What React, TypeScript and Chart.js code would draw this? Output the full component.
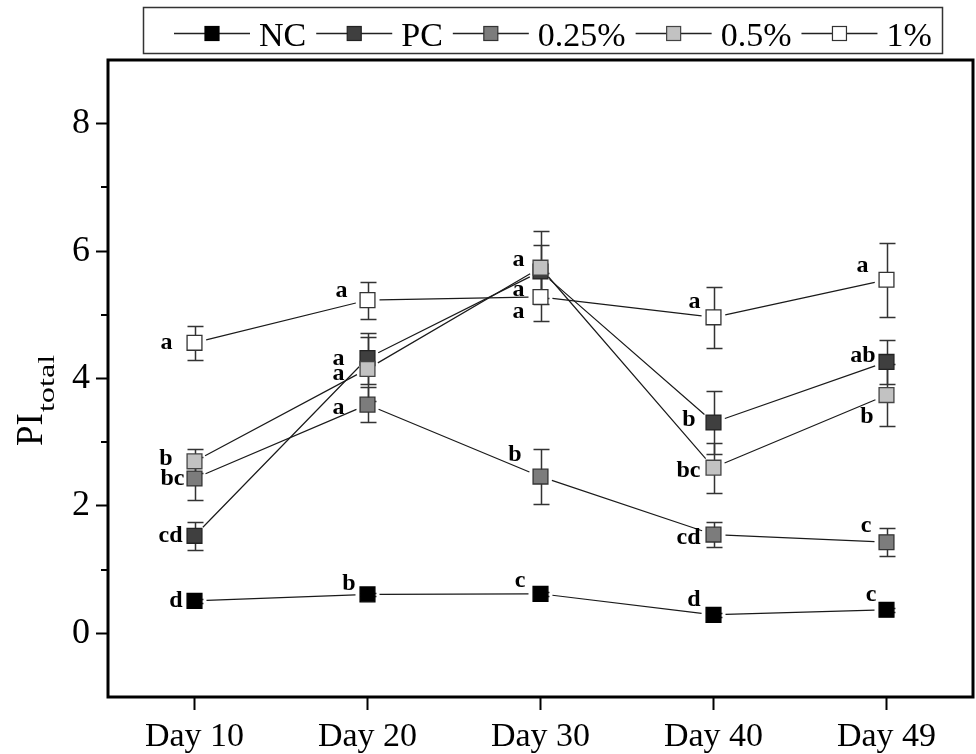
import React, { useEffect, useRef } from 'react';
import { Chart, registerables } from 'chart.js';

Chart.register(...registerables);

const FONT = '"Liberation Serif", "Times New Roman", serif';

// ---- data ----
const days = ['Day 10', 'Day 20', 'Day 30', 'Day 40', 'Day 49'];
const seriesNames = ['NC', 'PC', '0.25%', '0.5%', '1%'];
const yTicks = [0, 2, 4, 6, 8];
const yMinorTicks = [1, 3, 5, 7];

const ncValues = [0.51, 0.61, 0.62, 0.29, 0.37];
const ncErrors = [0.03, 0.03, 0.03, 0.03, 0.03];
const ncLetters = ['d', 'b', 'c', 'd', 'c'];

const pcValues = [1.53, 4.32, 5.68, 3.31, 4.26];
const pcErrors = [0.22, 0.4, 0.42, 0.49, 0.35];
const pcLetters = ['cd', 'a', 'a', 'b', 'ab'];

const p025Values = [2.43, 3.59, 2.46, 1.55, 1.43];
const p025Errors = [0.33, 0.27, 0.43, 0.2, 0.22];
const p025Letters = ['bc', 'a', 'b', 'cd', 'c'];

const p05Values = [2.7, 4.15, 5.74, 2.6, 3.74];
const p05Errors = [0.19, 0.5, 0.57, 0.39, 0.49];
const p05Letters = ['b', 'a', 'a', 'bc', 'b'];

const p1Values = [4.56, 5.23, 5.28, 4.96, 5.55];
const p1Errors = [0.27, 0.29, 0.38, 0.48, 0.58];
const p1Letters = ['a', 'a', 'a', 'a', 'a'];

// ---- styles / layout ----
const fillColors = ['#000000', '#3f3f3f', '#7c7c7c', '#c2c2c2', '#ffffff'];
const edgeColors = ['#000000', '#222222', '#333333', '#444444', '#333333'];
// label offsets [dx to right edge, dy to centre] relative to marker
const labelOffsets = [
  [[-12, 0], [-12, -11], [-15, -13], [-13, -15], [-10, -15]],
  [[-12, 0], [-23, 1], [-16, 18], [-18, -3], [-11, -6]],
  [[-10, 0], [-23, 3], [-19, -22], [-13, 3], [-15, -16]],
  [[-22, -3], [-23, 5], [-16, -8], [-13, 3], [-13, 22]],
  [[-22, 0], [-20, -9], [-16, 15], [-13, -16], [-18, -14]],
];
const LINE_GAP = 12;

const valuesList = [ncValues, pcValues, p025Values, p05Values, p1Values];
const errorsList = [ncErrors, pcErrors, p025Errors, p05Errors, p1Errors];
const lettersList = [ncLetters, pcLetters, p025Letters, p05Letters, p1Letters];

const errorBarPlugin = {
  id: 'errorBars',
  beforeDatasetsDraw(chart: any) {
    const ctx = chart.ctx;
    const ys = chart.scales.y;
    ctx.save();
    ctx.strokeStyle = '#333';
    ctx.lineWidth = 1.5;
    chart.data.datasets.forEach((ds: any, i: number) => {
      const meta = chart.getDatasetMeta(i);
      meta.data.forEach((pt: any, j: number) => {
        const v = ds.data[j];
        const e = ds.errors[j];
        if (!e) return;
        const yt = Math.round(ys.getPixelForValue(v + e)) + 0.5;
        const yb = Math.round(ys.getPixelForValue(v - e)) + 0.5;
        const x = Math.round(pt.x) + 0.5;
        ctx.beginPath();
        ctx.moveTo(x, yt);
        ctx.lineTo(x, yb);
        ctx.moveTo(x - 8, yt);
        ctx.lineTo(x + 8, yt);
        ctx.moveTo(x - 8, yb);
        ctx.lineTo(x + 8, yb);
        ctx.stroke();
      });
    });
    ctx.restore();
  },
  // connecting line of each series, stopped short of the markers (Origin style)
  beforeDatasetDraw(chart: any, args: any) {
    const ctx = chart.ctx;
    const pts = args.meta.data;
    ctx.save();
    ctx.strokeStyle = '#1a1a1a';
    ctx.lineWidth = 1.2;
    ctx.beginPath();
    for (let k = 0; k < pts.length - 1; k++) {
      const p = pts[k], q = pts[k + 1];
      const dx = q.x - p.x, dy = q.y - p.y;
      const len = Math.hypot(dx, dy);
      if (len <= 2 * LINE_GAP) continue;
      const ux = dx / len, uy = dy / len;
      ctx.moveTo(p.x + ux * LINE_GAP, p.y + uy * LINE_GAP);
      ctx.lineTo(q.x - ux * LINE_GAP, q.y - uy * LINE_GAP);
    }
    ctx.stroke();
    ctx.restore();
  },
};

const decorPlugin = {
  id: 'decor',
  afterDatasetsDraw(chart: any) {
    const ctx = chart.ctx;
    ctx.save();
    ctx.font = `bold 24px ${FONT}`;
    ctx.fillStyle = '#000';
    ctx.textAlign = 'right';
    ctx.textBaseline = 'middle';
    chart.data.datasets.forEach((ds: any, i: number) => {
      const meta = chart.getDatasetMeta(i);
      meta.data.forEach((pt: any, j: number) => {
        const off = labelOffsets[i][j];
        ctx.fillText(ds.letters[j], pt.x + off[0], pt.y + off[1]);
      });
    });
    ctx.restore();
  },
  afterDraw(chart: any) {
    const ctx = chart.ctx;
    const a = chart.chartArea;
    const ys = chart.scales.y;
    ctx.save();
    // frame
    ctx.strokeStyle = '#000';
    ctx.lineWidth = 3;
    ctx.strokeRect(a.left, a.top, a.right - a.left, a.bottom - a.top);
    // minor ticks
    ctx.lineWidth = 2;
    ctx.beginPath();
    yMinorTicks.forEach((v) => {
      const y = Math.round(ys.getPixelForValue(v));
      ctx.moveTo(a.left - 7, y);
      ctx.lineTo(a.left, y);
    });
    ctx.stroke();

    // y title PI_total
    ctx.save();
    ctx.translate(42, 446);
    ctx.rotate(-Math.PI / 2);
    ctx.fillStyle = '#000';
    ctx.textAlign = 'left';
    ctx.textBaseline = 'alphabetic';
    ctx.font = `37px ${FONT}`;
    ctx.fillText('PI', 0, 0);
    const w = ctx.measureText('PI').width;
    ctx.translate(w + 1, 12);
    ctx.scale(1.4, 1);
    ctx.font = `23px ${FONT}`;
    ctx.fillText('total', 0, 0);
    ctx.restore();

    // legend
    const boxL = 143, boxT = 7, boxR = 942, boxB = 53;
    ctx.strokeStyle = '#333';
    ctx.lineWidth = 1.5;
    ctx.strokeRect(boxL + 0.5, boxT + 0.5, boxR - boxL, boxB - boxT);
    ctx.font = `34px ${FONT}`;
    ctx.textAlign = 'left';
    ctx.textBaseline = 'alphabetic';
    let x = 174;
    const ly = 33.5;
    seriesNames.forEach((name, i) => {
      ctx.strokeStyle = '#222';
      ctx.lineWidth = 1.3;
      ctx.beginPath();
      ctx.moveTo(x, ly);
      ctx.lineTo(x + 76, ly);
      ctx.stroke();
      ctx.fillStyle = fillColors[i];
      ctx.fillRect(x + 31, ly - 7, 14, 14);
      ctx.strokeStyle = edgeColors[i];
      ctx.lineWidth = 1.2;
      ctx.strokeRect(x + 31, ly - 7, 14, 14);
      ctx.fillStyle = '#000';
      ctx.fillText(name, x + 85, 46);
      x += 85 + ctx.measureText(name).width + 10;
    });
    ctx.restore();
  },
};

export default function App() {
  const ref = useRef<HTMLCanvasElement | null>(null);
  useEffect(() => {
    if (!ref.current) return;
    const datasets = seriesNames.map((name, i) => ({
      label: name,
      data: valuesList[i],
      errors: errorsList[i],
      letters: lettersList[i],
      order: 5 - i,
      showLine: false,
      borderColor: '#1a1a1a',
      borderWidth: 1.2,
      backgroundColor: fillColors[i],
      pointBackgroundColor: fillColors[i],
      pointBorderColor: edgeColors[i],
      pointBorderWidth: 1.3,
      pointStyle: 'rect',
      pointRadius: 10.5,
      pointHoverRadius: 10.5,
      tension: 0,
      fill: false,
    }));
    const chart = new Chart(ref.current, {
      type: 'line',
      data: { labels: days, datasets: datasets as any },
      options: {
        responsive: false,
        animation: false,
        devicePixelRatio: 1,
        layout: { autoPadding: false, padding: { top: 60, right: 3, left: 0, bottom: 0 } },
        plugins: { legend: { display: false }, tooltip: { enabled: false }, title: { display: false } },
        scales: {
          x: {
            type: 'category',
            offset: true,
            grid: {
              display: true,
              drawOnChartArea: false,
              drawTicks: true,
              tickLength: 13,
              tickWidth: 2,
              tickColor: '#000',
              offset: false,
            },
            border: { display: false },
            ticks: { color: '#000', font: { family: FONT, size: 34 }, padding: 7, maxRotation: 0 },
            afterFit: (s: any) => {
              s.height = 57;
              s.paddingLeft = 0;
              s.paddingRight = 0;
            },
          },
          y: {
            type: 'linear',
            min: -1,
            max: 9,
            grid: {
              display: true,
              drawOnChartArea: false,
              drawTicks: true,
              tickLength: 12,
              tickWidth: 2,
              tickColor: '#000',
            },
            border: { display: false },
            ticks: { color: '#000', font: { family: FONT, size: 36 }, padding: 6 },
            afterBuildTicks: (s: any) => { s.ticks = yTicks.map((v) => ({ value: v })); },
            afterFit: (s: any) => {
              s.width = 108;
              s.paddingTop = 0;
              s.paddingBottom = 0;
            },
          },
        },
      },
      plugins: [errorBarPlugin, decorPlugin],
    });
    return () => chart.destroy();
  }, []);
  return (
    <div style={{ position: 'fixed', left: 0, top: 0, width: 976, height: 754, background: '#fff' }}>
      <canvas ref={ref} width={976} height={754} />
    </div>
  );
}
